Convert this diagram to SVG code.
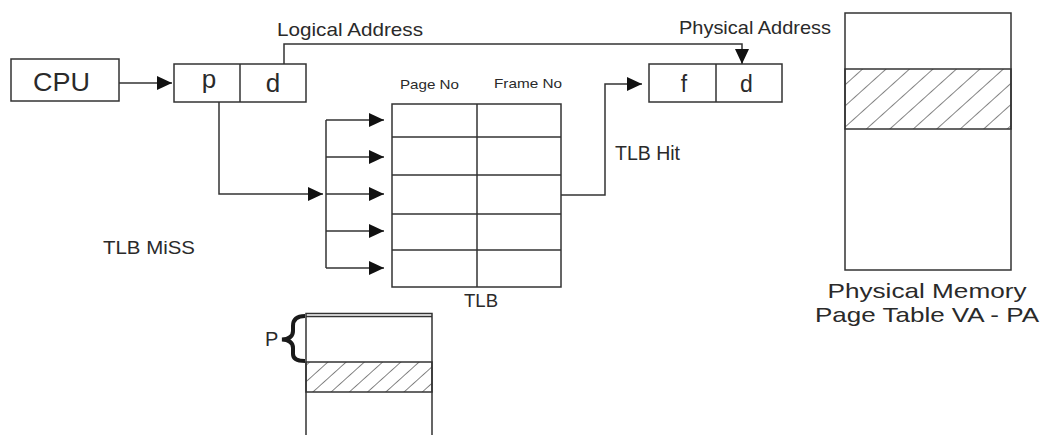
<svg xmlns="http://www.w3.org/2000/svg" width="1048" height="435" viewBox="0 0 1048 435">
<style>
.box{fill:#fff;stroke:#333;stroke-width:1.5}
.ln{fill:none;stroke:#333;stroke-width:1.5}
.t{font-family:"Liberation Sans",Arial,sans-serif;fill:#2a2a2a}
.hl{stroke:#333;stroke-width:1.2}
</style>
<defs>
<marker id="ah" markerUnits="userSpaceOnUse" markerWidth="15" markerHeight="14" refX="15" refY="7" orient="auto">
<path d="M0,0 L15,7 L0,14 z" fill="#111"/>
</marker>
<pattern id="hatchA" patternUnits="userSpaceOnUse" width="15.7" height="10" patternTransform="rotate(48)">
<line x1="0" y1="-1" x2="0" y2="11" class="hl"/>
</pattern>
<pattern id="hatchB" patternUnits="userSpaceOnUse" width="12.2" height="10" patternTransform="rotate(48)">
<line x1="0" y1="-1" x2="0" y2="11" class="hl"/>
</pattern>
</defs>
<rect width="1048" height="435" fill="#fff"/>

<g id="connectors">
<line x1="119" y1="83" x2="172" y2="83" class="ln" marker-end="url(#ah)"/>
<path d="M284,64 V44 H742 V64" class="ln" marker-end="url(#ah)"/>
<path d="M219,102 V194 H323" class="ln" marker-end="url(#ah)"/>
<line x1="326" y1="120" x2="326" y2="268" class="ln"/>
<line x1="326" y1="120" x2="384" y2="120" class="ln" marker-end="url(#ah)"/>
<line x1="326" y1="157" x2="384" y2="157" class="ln" marker-end="url(#ah)"/>
<line x1="326" y1="194" x2="384" y2="194" class="ln" marker-end="url(#ah)"/>
<line x1="326" y1="231" x2="384" y2="231" class="ln" marker-end="url(#ah)"/>
<line x1="326" y1="268" x2="384" y2="268" class="ln" marker-end="url(#ah)"/>
<path d="M561,195 H605 V84 H642" class="ln" marker-end="url(#ah)"/>
</g>

<g id="cpu">
<rect x="11" y="59" width="108" height="42" class="box"/>
<text x="61.5" y="91" class="t" font-size="26" text-anchor="middle" textLength="57" lengthAdjust="spacingAndGlyphs">CPU</text>
</g>

<g id="logical-address">
<rect x="174" y="64" width="132" height="38" class="box"/>
<line x1="240" y1="64" x2="240" y2="102" class="ln"/>
<text x="209" y="88" class="t" font-size="26" text-anchor="middle">p</text>
<text x="273" y="92" class="t" font-size="26" text-anchor="middle">d</text>
<text x="277" y="36" class="t" font-size="19" textLength="146" lengthAdjust="spacingAndGlyphs">Logical Address</text>
</g>

<g id="physical-address">
<rect x="649" y="64" width="133" height="38" class="box"/>
<line x1="716" y1="64" x2="716" y2="102" class="ln"/>
<text x="684" y="92" class="t" font-size="23" text-anchor="middle">f</text>
<text x="746.5" y="92" class="t" font-size="23" text-anchor="middle">d</text>
<text x="679" y="34" class="t" font-size="19" textLength="152" lengthAdjust="spacingAndGlyphs">Physical Address</text>
</g>

<g id="tlb">
<rect x="392" y="104" width="169" height="183" class="box"/>
<line x1="477" y1="104" x2="477" y2="287" class="ln"/>
<line x1="392" y1="137" x2="561" y2="137" class="ln"/>
<line x1="392" y1="175" x2="561" y2="175" class="ln"/>
<line x1="392" y1="214" x2="561" y2="214" class="ln"/>
<line x1="392" y1="250" x2="561" y2="250" class="ln"/>
<text x="400" y="89" class="t" font-size="13" textLength="59" lengthAdjust="spacingAndGlyphs">Page No</text>
<text x="494" y="88" class="t" font-size="13" textLength="68" lengthAdjust="spacingAndGlyphs">Frame No</text>
<text x="464" y="307" class="t" font-size="18.6" textLength="34" lengthAdjust="spacingAndGlyphs">TLB</text>
</g>

<g id="labels">
<text x="615" y="160" class="t" font-size="19.5" textLength="65" lengthAdjust="spacingAndGlyphs">TLB Hit</text>
<text x="103" y="254" class="t" font-size="19" textLength="92" lengthAdjust="spacingAndGlyphs">TLB MiSS</text>
</g>

<g id="physical-memory">
<rect x="845" y="13" width="166" height="257" class="box"/>
<rect x="845" y="69" width="166" height="60" fill="url(#hatchA)" stroke="#333" stroke-width="1.5"/>
<text x="927" y="298" class="t" font-size="21" text-anchor="middle" textLength="199" lengthAdjust="spacingAndGlyphs">Physical Memory</text>
<text x="927" y="322" class="t" font-size="21" text-anchor="middle" textLength="224" lengthAdjust="spacingAndGlyphs">Page Table VA - PA</text>
</g>

<g id="page-table">
<path d="M306,436 V313.5 H432 V436" class="ln"/>
<line x1="306" y1="316.5" x2="432" y2="316.5" class="ln"/>
<rect x="306" y="362" width="126" height="30" fill="url(#hatchB)" stroke="#333" stroke-width="1.5"/>
<path d="M305,316 C297,316 293,319 293,326 L293,331 C293,336 290,339 282,339.5 C290,340 293,343 293,348 L293,354 C293,359 297,361 305,361" fill="none" stroke="#1a1a1a" stroke-width="4"/>
<text x="265" y="346" class="t" font-size="20">P</text>
</g>
</svg>
